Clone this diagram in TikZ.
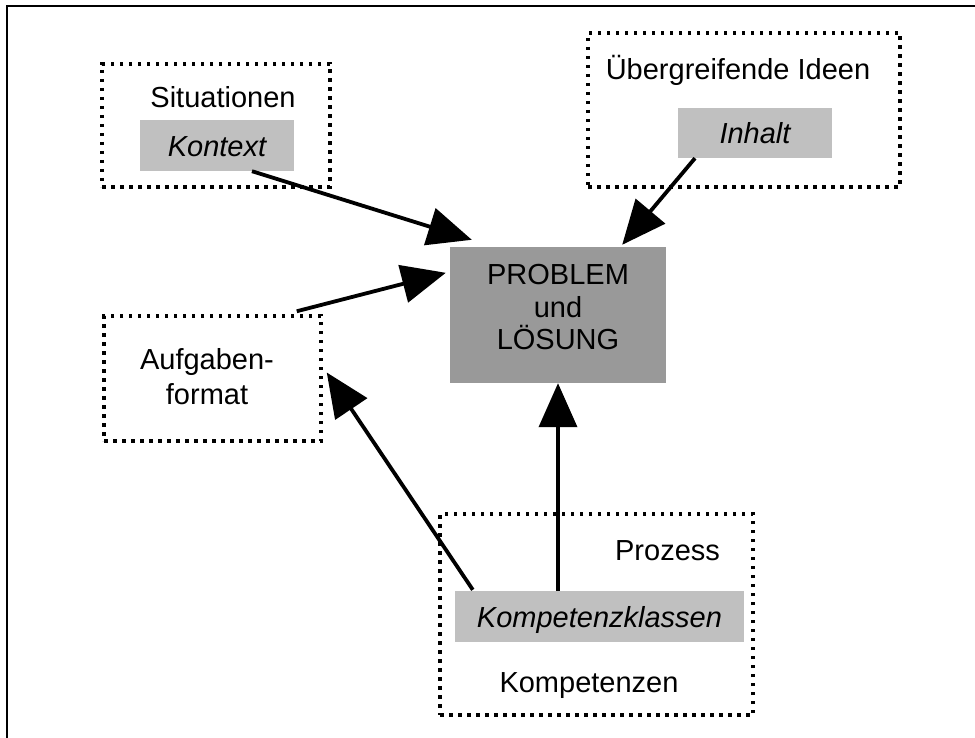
\documentclass[tikz,border=0pt]{standalone}
\usepackage{fontspec}
\setmainfont{Liberation Sans}
\usepackage{tikz}
\usetikzlibrary{arrows.meta}
\definecolor{hellgrau}{HTML}{C0C0C0}
\definecolor{dunkelgrau}{HTML}{999999}
\newcommand{\schrift}{\fontsize{29}{32.5}\selectfont}
\tikzset{
  punktbox/.style={draw, line width=3.5pt, dash pattern=on 3.5pt off 5.5pt, inner sep=0pt},
  grauzelle/.style={fill=hellgrau, inner sep=0pt, font=\schrift\itshape, text height=22pt, text depth=0pt},
  beschrift/.style={font=\schrift, inner sep=0pt},
  pfeil/.style={line width=3.8pt, -{Triangle[length=44pt,width=38pt]}}
}

\begin{document}
\begin{tikzpicture}[x=1pt, y=-1pt]
    \useasboundingbox (0,0) rectangle (975,738);
    % Rahmen
    \draw[line width=2pt] (975,6) -- (7,6) -- (7,738);

    % Situationen
    \node[punktbox, minimum width=228pt, minimum height=123pt] (sitbox) at (216,125.5) {};
    \node[beschrift, anchor=base] (situationen) at (223,108) {Situationen};
    \node[grauzelle, minimum width=154pt, minimum height=51pt] (kontext) at (217,145.5) {Kontext};

    % Übergreifende Ideen
    \node[punktbox, minimum width=312pt, minimum height=154pt] (ideenbox) at (744,110) {};
    \node[beschrift, anchor=base] (ideen) at (738,80) {Übergreifende Ideen};
    \node[grauzelle, minimum width=154pt, minimum height=50pt] (inhalt) at (755,133) {Inhalt};

    % Problem und Lösung
    \node[fill=dunkelgrau, minimum width=216pt, minimum height=136pt, inner sep=0pt] (problem) at (558,315) {};
    \node[beschrift, align=center] (problemtext) at (558,307.5) {PROBLEM\\und\\LÖSUNG};

    % Aufgabenformat
    \node[punktbox, minimum width=217pt, minimum height=125pt] (aufbox) at (212.5,378.5) {};
    \node[beschrift, align=center] (aufgabe) at (207,377) {Aufgaben-\\[2.5pt]format};

    % Kompetenzen
    \node[punktbox, minimum width=313pt, minimum height=201pt] (kompbox) at (596.5,614.5) {};
    \node[beschrift, anchor=base] (prozess) at (667.5,560) {Prozess};
    \node[grauzelle, minimum width=289pt, minimum height=51pt] (klassen) at (599.5,616.5) {Kompetenzklassen};
    \node[beschrift, anchor=base] (kompetenzen) at (589,692) {Kompetenzen};

    % Pfeile
    \draw[pfeil] ([xshift=35pt]kontext.south) -- ([shift={(22,-7)}]problem.north west);
    \draw[pfeil] ([xshift=-60pt]inhalt.south) -- ([shift={(-44,-2)}]problem.north east);
    \draw[pfeil] ([shift={(-26,-3)}]aufbox.north east) -- ([shift={(-4,26)}]problem.north west);
    \draw[pfeil] ([shift={(18,-1)}]klassen.north west) -- ([shift={(4,-6)}]aufbox.east);
    \draw[pfeil] ([xshift=-41.5pt]klassen.north) -- (problem.south);
\end{tikzpicture}
\end{document}
